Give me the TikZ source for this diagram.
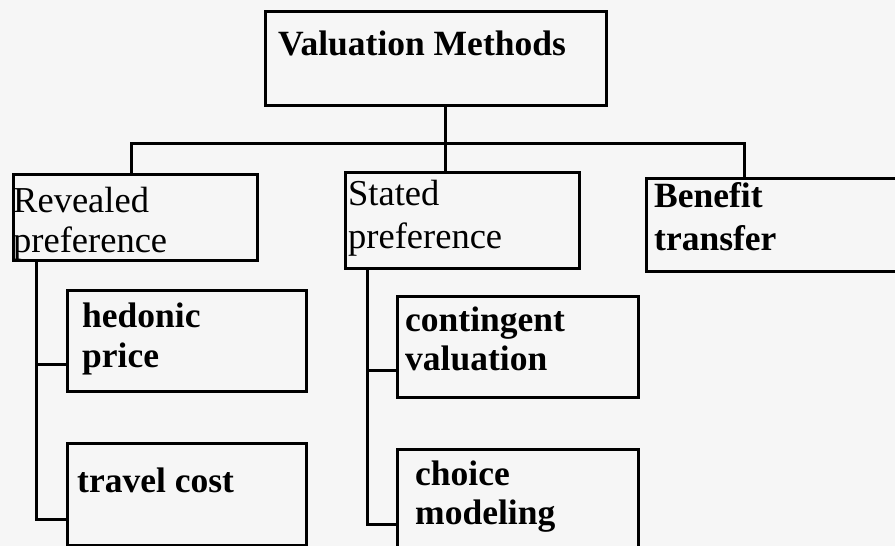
\documentclass[tikz,border=0pt]{standalone}
\usepackage{fontspec}
\setmainfont{Liberation Serif}
\definecolor{bg}{HTML}{F6F6F6}
\tikzset{
  box/.style={draw=black, line width=3pt, rectangle, inner sep=0pt, anchor=north west},
  lbl/.style={inner sep=0pt, anchor=base west, text=black, font=\fontsize{36.5}{40}\selectfont},
  blbl/.style={lbl, font=\fontsize{35.5}{40}\selectfont\bfseries},
  conn/.style={draw=black, line width=3pt}
}
\begin{document}
\begin{tikzpicture}[x=1pt,y=-1pt]
\path[use as bounding box, fill=bg] (0,0) rectangle (895,546);
\clip (0,0) rectangle (895,546);
% boxes
\node[box, minimum width=341pt, minimum height=94pt] (val) at (264,10) {};
\node[box, minimum width=244pt, minimum height=86pt] (rev) at (12,173) {};
\node[box, minimum width=234pt, minimum height=96pt] (sta) at (344,171) {};
\node[box, minimum width=260pt, minimum height=93pt] (ben) at (645,177) {};
\node[box, minimum width=239pt, minimum height=101pt] (hed) at (66,289) {};
\node[box, minimum width=239pt, minimum height=102pt] (tra) at (66,442) {};
\node[box, minimum width=241pt, minimum height=101pt] (con) at (396,295) {};
\node[box, minimum width=241pt, minimum height=110pt] (cho) at (396,448) {};
% texts
\node[blbl] (tval) at (278,55) {Valuation Methods};
\node[lbl] (trev1) at (13,212) {Revealed};
\node[lbl] (trev2) at (13,252) {preference};
\node[lbl] (tsta1) at (348,205) {Stated};
\node[lbl] (tsta2) at (348,248) {preference};
\node[blbl] (tben1) at (654,207) {Benefit};
\node[blbl] (tben2) at (654,250) {transfer};
\node[blbl] (thed1) at (82,327) {hedonic};
\node[blbl] (thed2) at (82,367) {price};
\node[blbl] (ttra) at (77,492) {travel cost};
\node[blbl] (tcon1) at (405,331) {contingent};
\node[blbl] (tcon2) at (405,370) {valuation};
\node[blbl] (tcho1) at (415,485) {choice};
\node[blbl] (tcho2) at (415,524) {modeling};
% junctions
\coordinate (j0) at (445,143);
\coordinate (hL) at (131,143);
\coordinate (hR) at (744,143);
\coordinate (rvx) at (36,0);
\coordinate (rb1) at (36,364);
\coordinate (rb2) at (36,519);
\coordinate (svx) at (367,0);
\coordinate (sb1) at (367,370);
\coordinate (sb2) at (367,524);
% connectors
\draw[conn] (val.south -| j0) -- (sta.north -| j0);
\draw[conn] (rev.north -| hL) -- (hL) -- (hR) -- (ben.north -| hR);
\draw[conn] (rev.south -| rvx) -- (rb2) -- (tra.west |- rb2);
\draw[conn] (rb1) -- (hed.west |- rb1);
\draw[conn] (sta.south -| svx) -- (sb2) -- (cho.west |- sb2);
\draw[conn] (sb1) -- (con.west |- sb1);
\end{tikzpicture}
\end{document}
